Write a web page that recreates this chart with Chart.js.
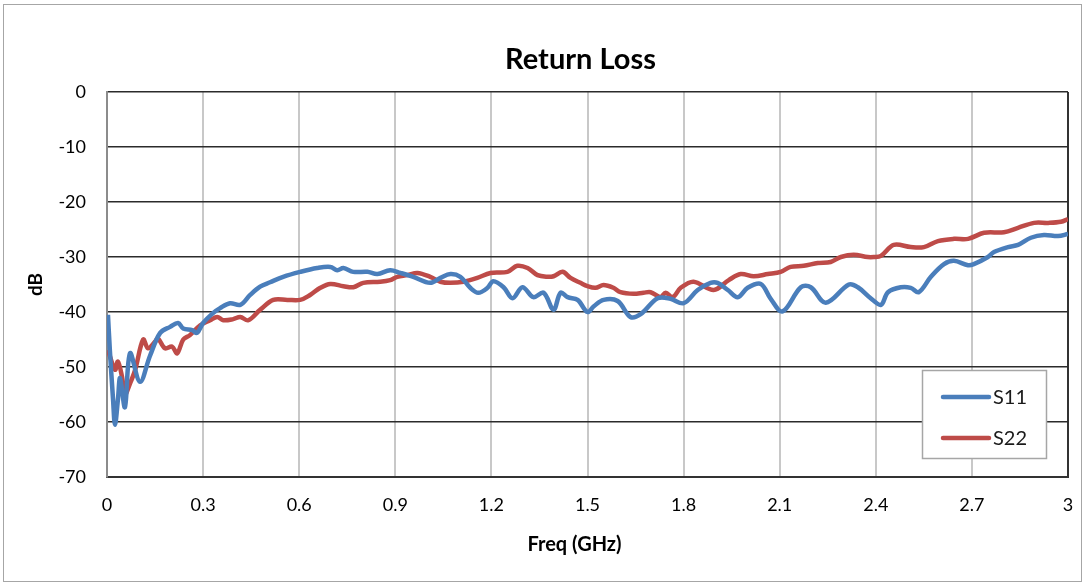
<!DOCTYPE html>
<html>
<head>
<meta charset="utf-8">
<script src="https://cdn.jsdelivr.net/npm/chart.js@4"></script>
<style>
  html, body { margin: 0; padding: 0; background: #fff; }
  #c { display: block; }
</style>
</head>
<body>
<canvas id="c" width="1085" height="583"></canvas>
<script>
// ---- data ----
const chartTitle = "Return Loss";
const xTitle = "Freq (GHz)";
const yTitle = "dB";
const xTicks = [0, 0.3, 0.6, 0.9, 1.2, 1.5, 1.8, 2.1, 2.4, 2.7, 3];
const yTicks = [0, -10, -20, -30, -40, -50, -60, -70];
const seriesNames = ["S11", "S22"];

const s11Freq = [0.003,0.009,0.019,0.025,0.034,0.041,0.056,0.072,0.103,0.134,0.166,0.197,0.222,0.238,0.266,0.281,0.300,0.331,0.353,0.384,0.416,0.447,0.478,0.509,0.550,0.603,0.656,0.697,0.719,0.738,0.769,0.813,0.844,0.884,0.916,0.956,1.009,1.041,1.072,1.103,1.134,1.159,1.188,1.206,1.238,1.266,1.297,1.331,1.363,1.394,1.416,1.438,1.469,1.500,1.519,1.550,1.594,1.634,1.666,1.719,1.759,1.800,1.844,1.884,1.906,1.938,1.969,2.000,2.041,2.072,2.109,2.166,2.197,2.244,2.316,2.344,2.384,2.416,2.438,2.478,2.509,2.534,2.572,2.613,2.644,2.688,2.706,2.750,2.769,2.813,2.844,2.884,2.925,2.969,3.000];
const s11dB = [-40.5,-47,-56,-60.5,-56,-52,-57.3,-47.5,-52.7,-48,-43.8,-42.7,-42,-43,-43.3,-43.8,-42,-40.2,-39.3,-38.4,-38.7,-36.9,-35.4,-34.6,-33.6,-32.7,-32,-31.8,-32.4,-32,-32.7,-32.7,-33.1,-32.4,-32.9,-33.6,-34.7,-33.8,-33.1,-33.6,-35.6,-36.5,-35.6,-34.4,-35.5,-37.5,-35.5,-37.3,-36.5,-39.6,-36.5,-37.3,-37.8,-40,-39,-37.8,-38,-40.9,-40.4,-37.5,-37.6,-38.4,-36,-34.7,-34.7,-36,-37.3,-35.6,-34.9,-37.6,-39.9,-35.5,-35.5,-38.3,-35,-35.5,-37.5,-38.7,-36.4,-35.5,-35.6,-36.4,-33.6,-31.3,-30.7,-31.5,-31.3,-30,-29.1,-28.2,-27.8,-26.5,-26,-26.2,-25.8];

const s22Freq = [0.003,0.025,0.034,0.047,0.056,0.072,0.088,0.113,0.128,0.150,0.159,0.181,0.203,0.219,0.238,0.259,0.291,0.322,0.344,0.363,0.394,0.416,0.441,0.478,0.519,0.563,0.603,0.634,0.666,0.697,0.738,0.769,0.800,0.853,0.884,0.906,0.938,0.969,1.009,1.041,1.072,1.113,1.156,1.197,1.250,1.281,1.313,1.344,1.375,1.394,1.422,1.447,1.478,1.500,1.525,1.550,1.581,1.603,1.644,1.675,1.697,1.728,1.744,1.766,1.791,1.831,1.894,1.941,1.978,2.019,2.063,2.103,2.134,2.175,2.219,2.259,2.291,2.331,2.375,2.394,2.416,2.456,2.509,2.550,2.594,2.644,2.688,2.738,2.800,2.844,2.894,2.938,2.978,3.000];
const s22dB = [-46.9,-50.5,-49,-51.8,-55,-53,-50.5,-45,-46.6,-45.4,-44.8,-46.6,-46.3,-47.5,-45,-44.2,-42.4,-41.5,-40.9,-41.5,-41.3,-40.9,-41.5,-39.6,-37.8,-37.8,-37.8,-36.9,-35.6,-34.9,-35.3,-35.5,-34.7,-34.5,-34.2,-33.6,-33.3,-32.9,-33.6,-34.5,-34.7,-34.5,-33.8,-32.9,-32.7,-31.6,-32,-33.3,-33.6,-33.5,-32.7,-33.8,-34.7,-35.3,-35.6,-35.1,-35.6,-36.4,-36.7,-36.5,-36.4,-37.3,-36.5,-37.3,-35.6,-34.5,-36,-34.2,-33.1,-33.5,-33.1,-32.7,-31.8,-31.6,-31.1,-30.9,-30,-29.6,-30,-30,-29.8,-27.8,-28.2,-28.2,-27.1,-26.7,-26.7,-25.6,-25.5,-24.7,-23.8,-23.8,-23.6,-23.1];

const seriesColors = ["#4a7ebb", "#be4b48"];
const FONT = "Lato, 'Open Sans', sans-serif";

function toPoints(xs, ys) { return xs.map((x, i) => ({ x: x, y: ys[i] })); }

const framePlugin = {
  id: 'frame',
  beforeDraw(chart) {
    const ctx = chart.ctx;
    ctx.save();
    ctx.fillStyle = '#fff';
    ctx.fillRect(0, 0, chart.width, chart.height);
    ctx.strokeStyle = '#a6a6a6';
    ctx.lineWidth = 1;
    ctx.strokeRect(3.5, 4.5, 1078, 577);
    ctx.restore();
  },
  afterDraw(chart) {
    const ctx = chart.ctx;
    const a = chart.chartArea;
    const cx = (a.left + a.right) / 2;
    ctx.save();
    ctx.fillStyle = '#000';
    ctx.textAlign = 'center';
    ctx.textBaseline = 'middle';
    // chart title
    ctx.font = "bold 29px " + FONT;
    ctx.fillText(chartTitle, cx - 7, 60);
    // x axis title
    ctx.font = "bold 20px " + FONT;
    ctx.fillText(xTitle, cx - 13, 545);
    // legend box inside plot
    ctx.fillStyle = '#fff';
    ctx.fillRect(922, 370, 125, 89);
    ctx.strokeStyle = '#a6a6a6';
    ctx.lineWidth = 1.5;
    ctx.strokeRect(922.5, 370.5, 124, 88);
    const rows = [397, 438];
    chart.data.datasets.forEach((ds, i) => {
      const y = rows[i];
      ctx.strokeStyle = ds.borderColor;
      ctx.lineWidth = 4.5;
      ctx.lineCap = 'round';
      ctx.beginPath();
      ctx.moveTo(943, y);
      ctx.lineTo(989, y);
      ctx.stroke();
      ctx.fillStyle = '#1a1a1a';
      ctx.font = "20px " + FONT;
      ctx.textBaseline = 'middle';
      ctx.textAlign = 'left';
      ctx.fillText(ds.label, 993, y + 1);
    });
    ctx.restore();
  }
};

new Chart(document.getElementById('c'), {
  type: 'line',
  data: {
    datasets: [
      { label: seriesNames[0], data: toPoints(s11Freq, s11dB), borderColor: seriesColors[0], backgroundColor: seriesColors[0], borderWidth: 4.5, pointRadius: 0, tension: 0.35, fill: false },
      { label: seriesNames[1], data: toPoints(s22Freq, s22dB), borderColor: seriesColors[1], backgroundColor: seriesColors[1], borderWidth: 4.5, pointRadius: 0, tension: 0.35, fill: false }
    ]
  },
  options: {
    responsive: false,
    animation: false,
    devicePixelRatio: 1,
    layout: { padding: { left: 0, right: 17, top: 92, bottom: 0 } },
    plugins: {
      legend: { display: false },
      tooltip: { enabled: false },
      title: { display: false }
    },
    scales: {
      x: {
        type: 'linear',
        min: 0, max: 3,
        afterBuildTicks(scale) { scale.ticks = xTicks.map(v => ({ value: v })); },
        afterFit(scale) { scale.height = 106; scale.paddingRight = 0; },
        ticks: {
          color: '#000',
          font: { family: FONT, size: 18 },
          padding: 17,
          maxRotation: 0,
          autoSkip: false,
          callback: v => String(Number(v.toFixed(1)))
        },
        grid: {
          drawTicks: false,
          color: c => (c.tick && c.tick.value === 3) ? '#333' : '#c8c8c8',
          lineWidth: 2
        },
        border: { display: true, color: '#333', width: 2 },
        title: { display: false }
      },
      y: {
        type: 'linear',
        min: -70, max: 0,
        afterBuildTicks(scale) { scale.ticks = yTicks.map(v => ({ value: v })); },
        afterFit(scale) { scale.width = 107; },
        ticks: {
          color: '#000',
          font: { family: FONT, size: 18 },
          padding: 21,
          autoSkip: false
        },
        grid: { drawTicks: false, color: '#2b2b2b', lineWidth: 1.5 },
        border: { display: true, color: '#8c8c8c', width: 2 },
        title: {
          display: true, text: yTitle, color: '#000',
          font: { family: FONT, size: 19, weight: 'bold' },
          padding: { top: 24, bottom: 0 }
        }
      }
    }
  },
  plugins: [framePlugin]
});
</script>
</body>
</html>
